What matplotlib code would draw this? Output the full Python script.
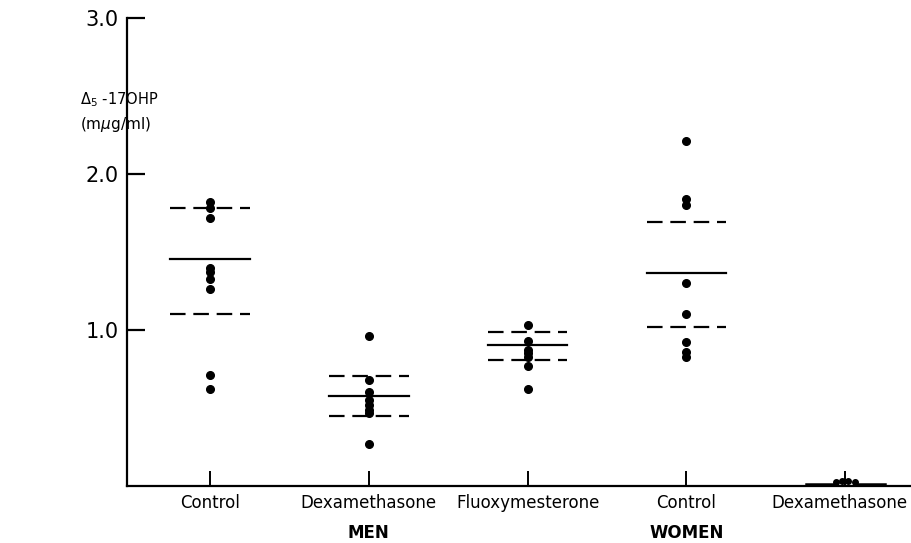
import matplotlib
matplotlib.use("Agg")
import matplotlib.pyplot as plt
import matplotlib.transforms as mtransforms

groups = ["Control", "Dexamethasone", "Fluoxymesterone", "Control", "Dexamethasone"]
sex_labels = ["MEN", "WOMEN"]

control_men = [1.82, 1.78, 1.72, 1.40, 1.37, 1.33, 1.26, 0.71, 0.62]
dexa_men = [0.96, 0.68, 0.60, 0.55, 0.52, 0.49, 0.47, 0.27]
fluoxy_men = [1.03, 0.93, 0.87, 0.85, 0.83, 0.77, 0.62]
control_women = [2.21, 1.84, 1.80, 1.30, 1.10, 0.92, 0.86, 0.83]
dexa_women = [0.025, 0.03, 0.03, 0.025]

means = [1.455, 0.58, 0.905, 1.365, 0.012]
upper = [1.78, 0.705, 0.985, 1.69, 0.012]
lower = [1.10, 0.45, 0.81, 1.02, 0.012]

series = [control_men, dexa_men, fluoxy_men, control_women, dexa_women]

fig = plt.figure(figsize=(9.12, 5.43), dpi=100)
ax = fig.add_axes([127/912, (543-486)/543, 1-127/912, (486-18)/543])

positions = [1, 2, 3, 4, 5]
half = 0.25
dash = (0, (7, 3.5))
for i, (p, vals) in enumerate(zip(positions, series)):
    if i == 4:
        offs = [-0.06, -0.02, 0.02, 0.06]
        xs = [p + o for o in offs]
        ax.plot(xs, vals, 'o', color='black', markersize=4, zorder=3)
        ax.plot([p - half, p - 0.08], [means[i]] * 2, color='black', lw=1.8)
        ax.plot([p + 0.08, p + half], [means[i]] * 2, color='black', lw=1.8)
        continue
    ax.plot([p] * len(vals), vals, 'o', color='black', markersize=5.5, zorder=3)
    ax.plot([p - half, p + half], [means[i]] * 2, color='black', lw=1.6)
    ax.plot([p - half, p + half], [upper[i]] * 2, color='black', lw=1.6, linestyle=dash)
    ax.plot([p - half, p + half], [lower[i]] * 2, color='black', lw=1.6, linestyle=dash)

ax.set_xlim(0.477, 5.42)
ax.set_ylim(0, 3.0)
for s in ['top', 'right']:
    ax.spines[s].set_visible(False)
for s in ['left', 'bottom']:
    ax.spines[s].set_linewidth(1.6)

ax.set_yticks([1.0, 2.0, 3.0])
ax.set_yticklabels(["1.0", "2.0", "3.0"], fontsize=15)
ax.tick_params(axis='y', direction='in', length=13, width=1.6, pad=6)
ax.set_xticks(positions)
ax.set_xticklabels(groups, fontsize=12)
ax.tick_params(axis='x', direction='in', length=11, width=1.4, pad=6)
last = ax.get_xticklabels()[-1]
last.set_transform(last.get_transform() + mtransforms.ScaledTranslation(-4/72, 0, fig.dpi_scale_trans))

ax.text(2, -0.30, sex_labels[0], ha='center', va='center', fontsize=12, fontweight='bold')
ax.text(4, -0.30, sex_labels[1], ha='center', va='center', fontsize=12, fontweight='bold')

fig.text(80/912, 1 - 100/543, r"$\Delta_5$ -17OHP", fontsize=10.5, ha='left', va='center')
fig.text(80/912, 1 - 124/543, r"(m$\mu$g/ml)", fontsize=11, ha='left', va='center')

fig.savefig("out.png", dpi=100)
